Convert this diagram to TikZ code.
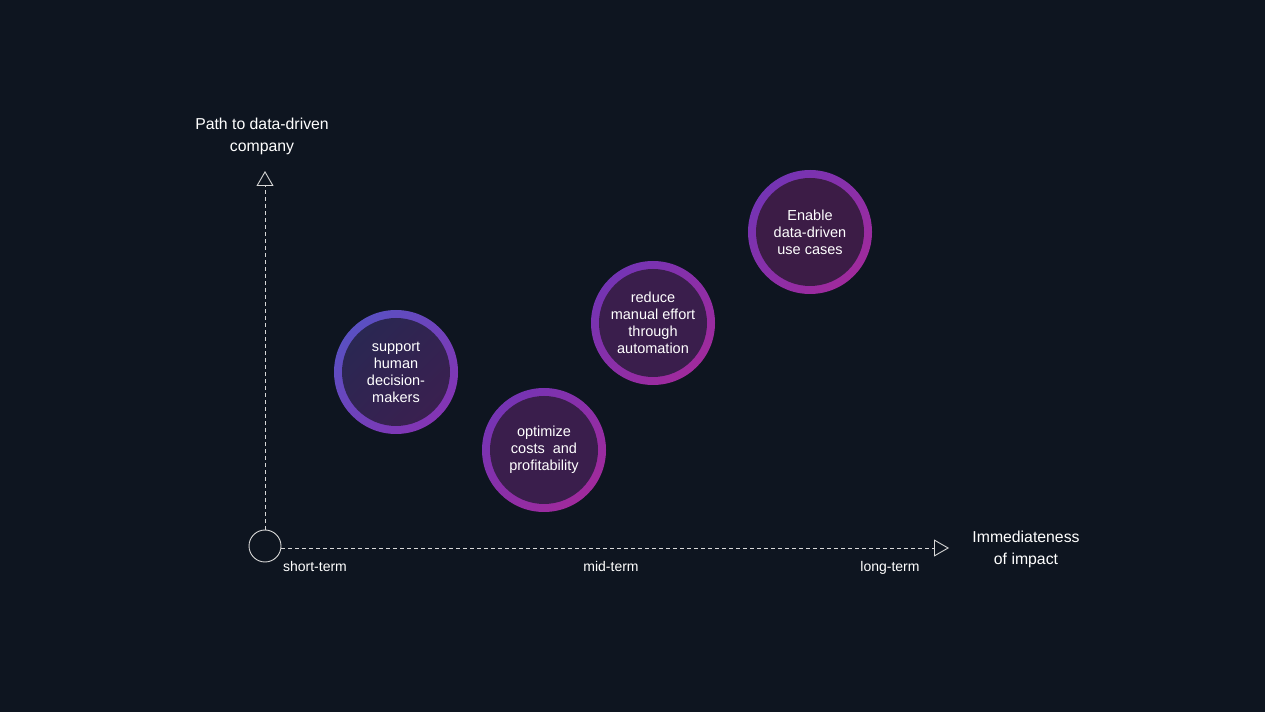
\documentclass[tikz,border=0pt]{standalone}
\usepackage{fontspec}
\setmainfont{Liberation Sans}
\usetikzlibrary{arrows.meta}
\definecolor{bg}{HTML}{0E1520}
\definecolor{axiscol}{HTML}{D8D8D8}
\definecolor{ringA}{HTML}{5A50C2}
\definecolor{ringB}{HTML}{8434B4}
\definecolor{ringC}{HTML}{7434B4}
\definecolor{ringD}{HTML}{A02A9C}
\definecolor{innerA}{HTML}{2A2752}
\definecolor{innerB}{HTML}{3A2050}
\definecolor{innerC}{HTML}{3A1E4C}
\definecolor{innerD}{HTML}{3C1C46}
\begin{document}
\begin{tikzpicture}[x=1pt,y=1pt,
  ring/.style={circle, minimum size=124pt, inner sep=0pt},
  inner/.style={circle, minimum size=108pt, inner sep=0pt, text=white, align=center,
    font=\fontsize{14.5}{17}\selectfont},
  axisline/.style={draw=axiscol, line width=0.9pt, dash pattern=on 4pt off 3pt,
    -{Triangle[open, length=15pt, width=17pt, line width=0.9pt]}},
  axislabel/.style={text=white, align=center, font=\fontsize{15.8}{22}\selectfont},
  ticklabel/.style={text=white, anchor=base, font=\fontsize{14}{17}\selectfont}]
\fill[bg] (0,0) rectangle (1265,712);
\useasboundingbox (0,0) rectangle (1265,712);

% origin and axes
\node[circle, draw=axiscol, line width=0.9pt, minimum size=32pt, inner sep=0pt] (o) at (265,166) {};
\coordinate (ytip) at (265,541);
\coordinate (xtip) at (949,164);
\draw[axisline] (o.north) -- (ytip);
\draw[axisline] (o.east |- xtip) -- (xtip);

\node[axislabel] (ylab) at (262,576) {Path to data-driven\\company};
\node[axislabel] (xlab) at (1026,163) {Immediateness\\of impact};
\node[ticklabel] (t1) at (315,140) {short-term};
\node[ticklabel] (t2) at (611,140) {mid-term};
\node[ticklabel] (t3) at (890,140) {long-term};

% circles
\node[ring, top color=ringA, bottom color=ringB, shading angle=45] (r1) at (396,340) {};
\node[inner, top color=innerA, bottom color=innerB, shading angle=45] (c1) at (r1) {support\\human\\decision-\\makers};

\node[ring, top color=ringC!90!ringB, bottom color=ringD, shading angle=45] (r2) at (544,262) {};
\node[inner, fill=innerC] (c2) at (r2) {optimize\\costs~ and\\profitability};

\node[ring, top color=ringC, bottom color=ringD, shading angle=45] (r3) at (653,389) {};
\node[inner, fill=innerC] (c3) at (r3) {reduce\\manual effort\\through\\automation};

\node[ring, top color=ringC, bottom color=ringD, shading angle=45] (r4) at (810,480) {};
\node[inner, fill=innerD] (c4) at (r4) {Enable\\data-driven\\use cases};
\end{tikzpicture}
\end{document}
